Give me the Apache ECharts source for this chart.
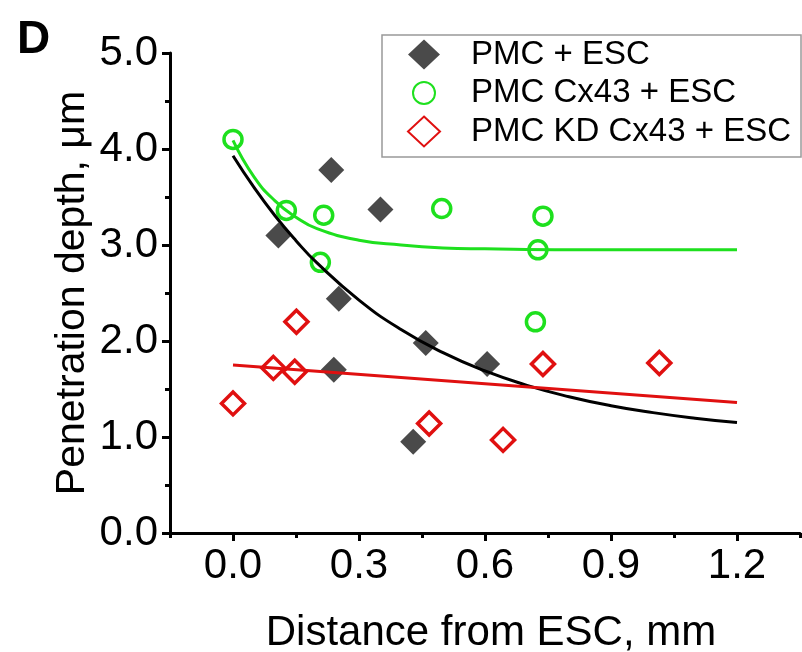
<!DOCTYPE html>
<html>
<head>
<meta charset="utf-8">
<script src="https://cdn.jsdelivr.net/npm/echarts@6/dist/echarts.min.js"></script>
<style>
html,body{margin:0;padding:0;background:#fff;}
#chart{width:802px;height:652px;}
</style>
</head>
<body>
<div id="chart"></div>
<script>
// ---- data ----
const seriesNames = ['PMC + ESC', 'PMC Cx43 + ESC', 'PMC KD Cx43 + ESC'];
const pmcPoints = [[0.108,3.10],[0.234,3.78],[0.351,3.37],[0.252,2.44],[0.240,1.70],[0.459,1.98],[0.429,0.95],[0.605,1.76]];
const cx43Points = [[0.000,4.10],[0.127,3.36],[0.216,3.31],[0.208,2.82],[0.497,3.38],[0.738,3.30],[0.726,2.95],[0.720,2.20]];
const kdPoints = [[0.000,1.35],[0.096,1.72],[0.147,1.68],[0.151,2.20],[0.467,1.14],[0.643,0.97],[0.738,1.76],[1.015,1.77]];
// fitted curves
const pmcFit = [[0,3.93],[0.05,3.60],[0.1,3.305],[0.15,3.045],[0.2,2.813],[0.3,2.426],[0.4,2.119],[0.5,1.878],[0.6,1.688],[0.7,1.538],[0.8,1.420],[0.9,1.326],[1.0,1.254],[1.1,1.196],[1.2,1.15]];
const cx43Fit = [[0,4.09],[0.05,3.71],[0.1,3.46],[0.15,3.29],[0.2,3.17],[0.3,3.05],[0.4,3.00],[0.5,2.97],[0.6,2.96],[0.8,2.95],[1.0,2.95],[1.2,2.95]];
const kdFit = [[0,1.75],[1.2,1.36]];
const xTickLabels = [0, 0.3, 0.6, 0.9, 1.2];
const xMinorTicks = [-0.15, 0.15, 0.45, 0.75, 1.05, 1.35];

const FONT = '"Liberation Sans", Arial, sans-serif';
const BLACK = '#4a4a4a', GREEN = '#1ee01e', RED = '#e01010';
const circleIcon = 'path://M0,0M32,30M16,4A11,11,0,1,1,16,26A11,11,0,1,1,16,4Z';

const chart = echarts.init(document.getElementById('chart'), null, {renderer: 'canvas'});
chart.setOption({
  animation: false,
  backgroundColor: '#fff',
  title: {text: 'D', left: 12, top: 12, textStyle: {fontFamily: FONT, fontSize: 46, fontWeight: 'bold', color: '#000'}},
  legend: {
    orient: 'vertical', left: 382, top: 35,
    padding: [3, 10, 9, 25],
    borderColor: '#999', borderWidth: 1.5,
    itemWidth: 32, itemHeight: 30, itemGap: 5.5,
    textStyle: {fontFamily: FONT, fontSize: 33, color: '#000', lineHeight: 30, padding: [0, 0, 0, 26]},
    data: [
      {name: seriesNames[0], icon: 'diamond'},
      {name: seriesNames[1], icon: circleIcon},
      {name: seriesNames[2], icon: 'diamond'}
    ]
  },
  grid: {left: 170, right: 2, top: 53, bottom: 119, containLabel: false, outerBoundsMode: 'none'},
  xAxis: [{
    type: 'value', min: -0.15, max: 1.35,
    name: 'Distance from ESC, mm', nameLocation: 'middle', nameGap: 79,
    nameTextStyle: {fontFamily: FONT, fontSize: 42, color: '#000', padding: [0, 0, 0, 12]},
    axisLine: {show: true, onZero: false, lineStyle: {color: '#000', width: 3}},
    axisTick: {show: true, inside: false, length: 8, lineStyle: {color: '#000', width: 3}, customValues: xTickLabels},
    axisLabel: {show: true, margin: 12, fontFamily: FONT, fontSize: 42, color: '#000', customValues: xTickLabels,
      formatter: v => v.toFixed(1)},
    splitLine: {show: false}
  }, {
    type: 'value', min: -0.15, max: 1.35, position: 'bottom', gridIndex: 0,
    axisLine: {show: false, onZero: false},
    axisTick: {show: true, length: 5, lineStyle: {color: '#000', width: 3}, customValues: xMinorTicks},
    axisLabel: {show: false},
    splitLine: {show: false}
  }],
  yAxis: {
    type: 'value', min: 0, max: 5, interval: 1,
    name: 'Penetration depth, μm', nameLocation: 'middle', nameGap: 77, nameMoveOverlap: false,
    nameTextStyle: {fontFamily: FONT, fontSize: 41, color: '#000'},
    axisLine: {show: true, onZero: false, lineStyle: {color: '#000', width: 3}},
    axisTick: {show: true, length: 8, lineStyle: {color: '#000', width: 3}},
    minorTick: {show: true, splitNumber: 2, length: 5, lineStyle: {color: '#000', width: 3}},
    axisLabel: {margin: 12, fontFamily: FONT, fontSize: 42, color: '#000', formatter: v => v.toFixed(1)},
    splitLine: {show: false}
  },
  series: [
    {name: seriesNames[0], type: 'scatter', data: pmcPoints, symbol: 'diamond', symbolSize: 26,
      itemStyle: {color: BLACK, opacity: 1}, z: 2},
    {name: seriesNames[1], type: 'scatter', data: cx43Points, symbol: 'circle', symbolSize: 18,
      itemStyle: {color: 'transparent', borderColor: GREEN, borderWidth: 3.5, opacity: 1}, z: 2},
    {name: seriesNames[2], type: 'scatter', data: kdPoints, symbol: 'diamond', symbolSize: 23,
      itemStyle: {color: 'transparent', borderColor: RED, borderWidth: 3.5, opacity: 1}, z: 2},
    {name: 'fit1', type: 'line', data: pmcFit, smooth: 0.5, showSymbol: false, symbol: 'none',
      lineStyle: {color: '#000', width: 3}, z: 3, silent: true},
    {name: 'fit2', type: 'line', data: cx43Fit, smooth: 0.5, showSymbol: false, symbol: 'none',
      lineStyle: {color: GREEN, width: 3}, z: 3, silent: true},
    {name: 'fit3', type: 'line', data: kdFit, smooth: false, showSymbol: false, symbol: 'none',
      lineStyle: {color: RED, width: 3}, z: 3, silent: true}
  ]
});
</script>
</body>
</html>
